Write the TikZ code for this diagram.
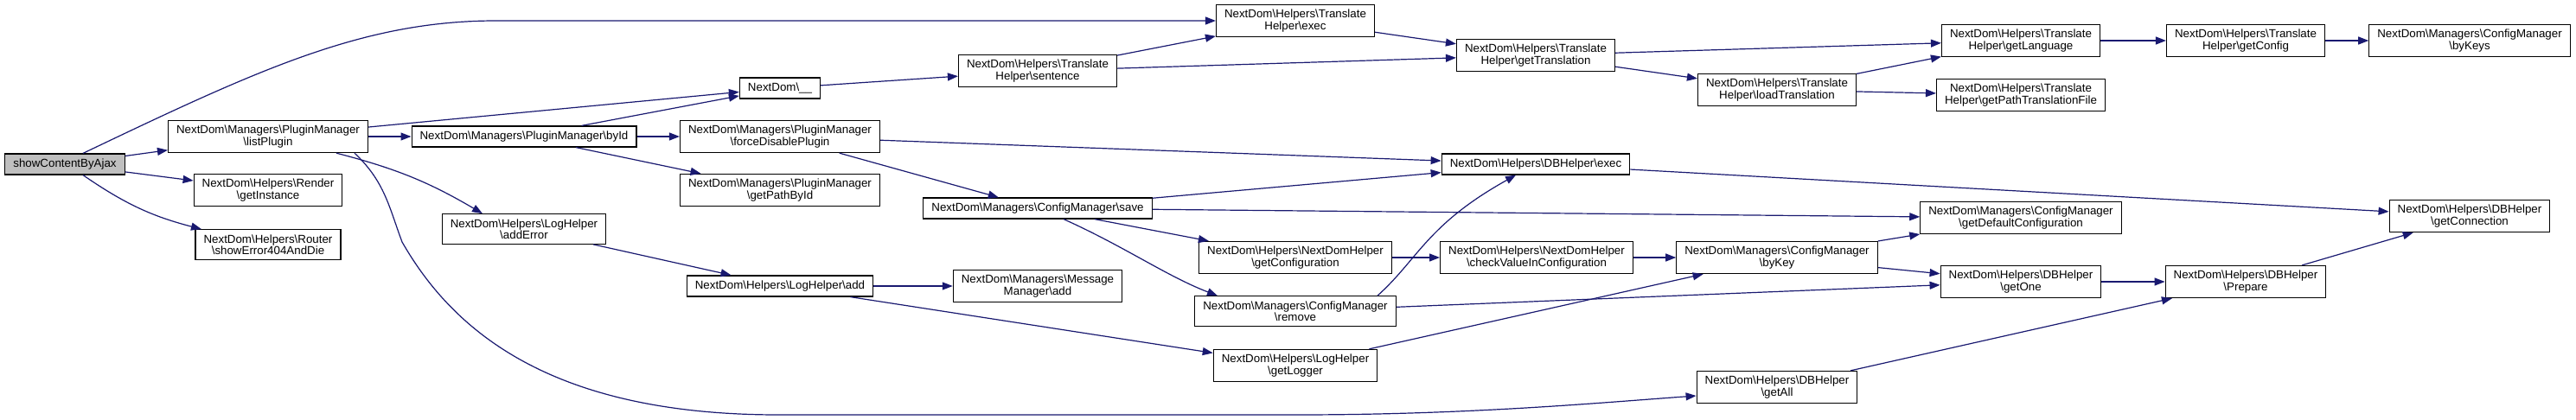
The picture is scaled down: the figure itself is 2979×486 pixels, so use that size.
\documentclass[tikz,border=0pt]{standalone}
\usepackage{fontspec}
\setmainfont{Liberation Sans}
\usetikzlibrary{arrows.meta}
\definecolor{edgeblue}{HTML}{191970}
\newcommand{\bsl}{\textbackslash}

\begin{document}
\begin{tikzpicture}[
	x=1pt, y=-1pt,
	fn/.style={draw=black, fill=white, line width=1.2pt, inner xsep=9.5pt, inner ysep=5.7pt, minimum height=24pt, align=center, font=\fontsize{13.33}{13.3}\selectfont},
	root/.style={fn, fill=black!25},
	call/.style={draw=edgeblue, line width=1.2pt, -{Triangle[length=12pt, width=9pt]}},
]
	\useasboundingbox (0, 0) rectangle (2979, 486);

	% Functions, one column per call depth
	\node[root] (show) at (75, 190) {showContentByAjax};

	\node[fn] (list) at (310, 158) {NextDom\bsl Managers\bsl PluginManager\\\bsl listPlugin};
	\node[fn] (render) at (310, 220) {NextDom\bsl Helpers\bsl Render\\\bsl getInstance};
	\node[fn] (router) at (310, 283) {NextDom\bsl Helpers\bsl Router\\\bsl showError404AndDie};

	\node[fn] (byid) at (606, 158) {NextDom\bsl Managers\bsl PluginManager\bsl byId};
	\node[fn] (adderror) at (606, 265) {NextDom\bsl Helpers\bsl LogHelper\\\bsl addError};

	\node[fn] (under) at (902, 102) {NextDom\bsl \_\_};
	\node[fn] (force) at (902, 158) {NextDom\bsl Managers\bsl PluginManager\\\bsl forceDisablePlugin};
	\node[fn] (pathbyid) at (902, 220) {NextDom\bsl Managers\bsl PluginManager\\\bsl getPathById};
	\node[fn] (logadd) at (902, 331) {NextDom\bsl Helpers\bsl LogHelper\bsl add};

	\node[fn] (sentence) at (1200, 82) {NextDom\bsl Helpers\bsl Translate\\Helper\bsl sentence};
	\node[fn] (save) at (1200, 241) {NextDom\bsl Managers\bsl ConfigManager\bsl save};
	\node[fn] (msgadd) at (1200, 331) {NextDom\bsl Managers\bsl Message\\Manager\bsl add};

	\node[fn] (texec) at (1498, 24) {NextDom\bsl Helpers\bsl Translate\\Helper\bsl exec};
	\node[fn] (getconfig) at (1498, 298) {NextDom\bsl Helpers\bsl NextDomHelper\\\bsl getConfiguration};
	\node[fn] (remove) at (1498, 360) {NextDom\bsl Managers\bsl ConfigManager\\\bsl remove};
	\node[fn] (getlogger) at (1498, 423) {NextDom\bsl Helpers\bsl LogHelper\\\bsl getLogger};

	\node[fn] (gettrans) at (1776, 64) {NextDom\bsl Helpers\bsl Translate\\Helper\bsl getTranslation};
	\node[fn] (dbexec) at (1776, 190) {NextDom\bsl Helpers\bsl DBHelper\bsl exec};
	\node[fn] (checkval) at (1777, 298) {NextDom\bsl Helpers\bsl NextDomHelper\\\bsl checkValueInConfiguration};

	\node[fn] (loadtrans) at (2055, 104) {NextDom\bsl Helpers\bsl Translate\\Helper\bsl loadTranslation};
	\node[fn] (bykey) at (2055, 298) {NextDom\bsl Managers\bsl ConfigManager\\\bsl byKey};
	\node[fn] (getall) at (2055, 448) {NextDom\bsl Helpers\bsl DBHelper\\\bsl getAll};

	\node[fn] (getlang) at (2337, 47) {NextDom\bsl Helpers\bsl Translate\\Helper\bsl getLanguage};
	\node[fn] (getpath) at (2337, 110) {NextDom\bsl Helpers\bsl Translate\\Helper\bsl getPathTranslationFile};
	\node[fn] (defconf) at (2337, 252) {NextDom\bsl Managers\bsl ConfigManager\\\bsl getDefaultConfiguration};
	\node[fn] (getone) at (2337, 326) {NextDom\bsl Helpers\bsl DBHelper\\\bsl getOne};

	\node[fn] (getconf) at (2597, 47) {NextDom\bsl Helpers\bsl Translate\\Helper\bsl getConfig};
	\node[fn] (prepare) at (2597, 326) {NextDom\bsl Helpers\bsl DBHelper\\\bsl Prepare};

	\node[fn] (bykeys) at (2856, 47) {NextDom\bsl Managers\bsl ConfigManager\\\bsl byKeys};
	\node[fn] (getconn) at (2856, 250) {NextDom\bsl Helpers\bsl DBHelper\\\bsl getConnection};

	% Straight calls
	\foreach \a/\b in {show/list, show/render, list/under, list/byid, byid/under, byid/force,
			byid/pathbyid, under/sentence, sentence/texec, sentence/gettrans, texec/gettrans,
			gettrans/getlang, gettrans/loadtrans, loadtrans/getlang, loadtrans/getpath,
			getlang/getconf, getconf/bykeys, force/dbexec, force/save, save/dbexec, save/defconf,
			save/getconfig, getconfig/checkval, checkval/bykey, bykey/defconf, bykey/getone,
			remove/getone, dbexec/getconn, adderror/logadd, logadd/msgadd, logadd/getlogger,
			getlogger/bykey, getone/prepare, prepare/getconn, getall/prepare} {
		\draw[call] (\a) -- (\b);
	}

	% Curved calls
	\draw[call] ([xshift=21pt]show.north) .. controls (300, 80) and (420, 24) .. (574, 24) -- (texec.west);
	\draw[call] ([xshift=21pt]show.south) to[bend right=10] ([xshift=-77pt]router.north);
	\draw[call] ([xshift=79pt]list.south) to[bend left=8] ([xshift=-48pt]adderror.north);
	\draw[call] ([xshift=100pt]list.south) .. controls (445, 210) and (450, 240) .. (465, 280)
		.. controls (525, 385) and (640, 480) .. (900, 480) -- (1500, 480)
		.. controls (1700, 480) and (1850, 466) .. ([yshift=-10pt]getall.west);
	\draw[call] ([xshift=30pt]save.south) .. controls (1300, 285) and (1350, 320) .. ([xshift=-90pt]remove.north);
	\draw[call] ([xshift=95pt]remove.north) .. controls (1640, 300) and (1650, 260) .. ([xshift=-23pt]dbexec.south);
\end{tikzpicture}
\end{document}
